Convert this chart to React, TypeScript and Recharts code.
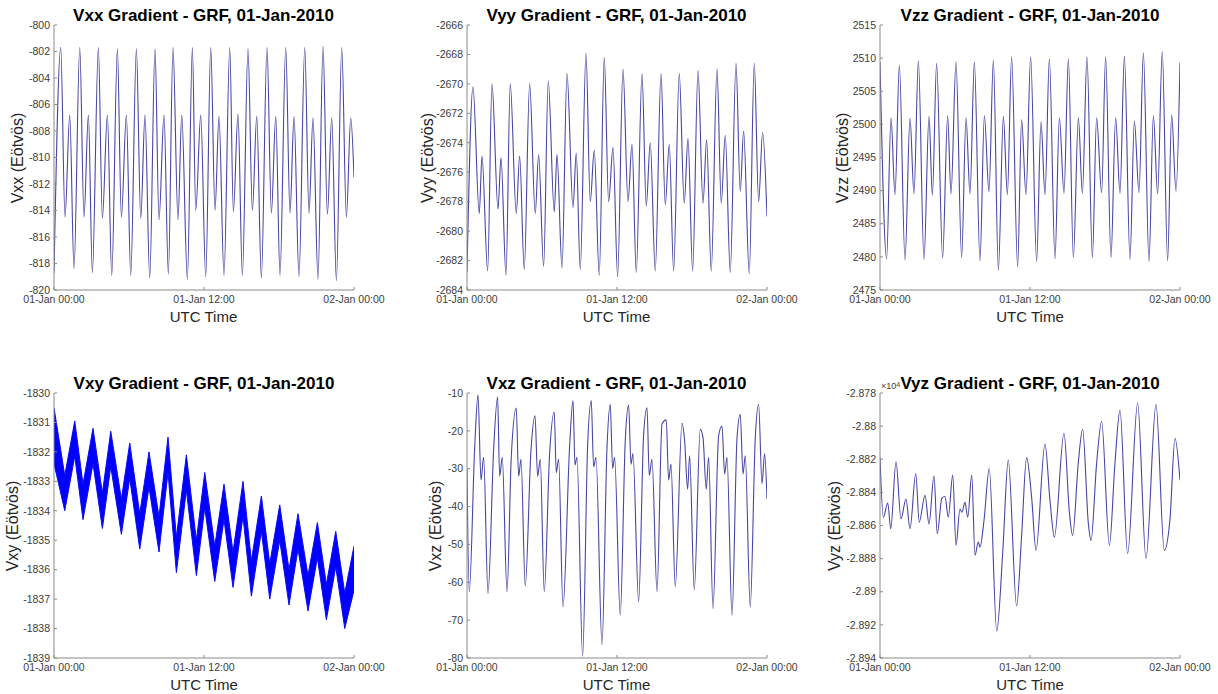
import React from 'react';
import { LineChart, Line, AreaChart, Area, XAxis, YAxis } from 'recharts';

// ---------- shared axis data ----------
const timeTicks = [0, 12, 24];
const timeTickLabels = ['01-Jan 00:00', '01-Jan 12:00', '02-Jan 00:00'];

// ---------- Vxx ----------
const vxxHours = [0, 0.54, 0.88, 1.26, 1.6, 2.06, 2.4, 2.75, 3.07, 3.55, 3.87, 4.27, 4.62, 5.07, 5.39, 5.79, 6.14, 6.59, 6.94, 7.28, 7.66, 8.08, 8.4, 8.8, 9.15, 9.52, 9.92, 10.22, 10.67, 11.07, 11.34, 11.74, 12.14, 12.54, 12.88, 13.2, 13.6, 14.06, 14.35, 14.72, 15.07, 15.52, 15.87, 16.22, 16.59, 17.04, 17.39, 17.74, 18.08, 18.54, 18.88, 19.2, 19.6, 20.06, 20.4, 20.72, 21.12, 21.52, 21.87, 22.22, 22.59, 23.02, 23.39, 23.74, 24];
const vxxValues = [-818.7,
  -801.7, -814.5, -806.8, -818.4,
  -801.7, -814.5, -806.8, -818.7,
  -801.7, -814.6, -806.8, -818.9,
  -801.8, -814.5, -806.8, -818.9,
  -801.8, -814.6, -806.8, -819.1,
  -801.8, -814.7, -806.8, -818.8,
  -801.7, -814.7, -806.8, -819.2,
  -801.7, -814.0, -806.8, -819.0,
  -801.7, -814.0, -806.9, -818.9,
  -801.7, -814.1, -806.7, -818.9,
  -801.8, -814.0, -806.9, -819.1,
  -801.7, -814.2, -806.9, -818.9,
  -801.7, -814.2, -806.9, -819.0,
  -801.7, -814.2, -807.0, -819.2,
  -801.6, -814.3, -807.0, -819.3,
  -801.7, -814.5, -807.0, -811.5];
const vxxTicks = [-820, -818, -816, -814, -812, -810, -808, -806, -804, -802, -800];

// ---------- Vyy ----------
const vyyHours = [0, 0.48, 0.98, 1.2, 1.65, 2.0, 2.48, 2.72, 3.12, 3.46, 3.94, 4.21, 4.58, 5.01, 5.46, 5.73, 6.13, 6.5, 6.98, 7.2, 7.6, 8.0, 8.48, 8.74, 9.06, 9.52, 9.86, 10.18, 10.58, 10.98, 11.33, 11.68, 12.05, 12.48, 12.88, 13.2, 13.54, 14.0, 14.34, 14.66, 15.06, 15.52, 15.86, 16.18, 16.53, 16.98, 17.38, 17.68, 18.05, 18.48, 18.88, 19.17, 19.54, 20.0, 20.34, 20.66, 21.06, 21.52, 21.86, 22.13, 22.58, 22.98, 23.33, 23.65, 24];
const vyyValues = [-2682.8,
  -2670.2, -2678.8, -2674.9, -2682.7,
  -2670.0, -2678.5, -2675.0, -2683.0,
  -2670.0, -2678.8, -2674.9, -2682.6,
  -2670.0, -2678.8, -2674.8, -2682.4,
  -2669.8, -2678.7, -2674.8, -2682.5,
  -2669.3, -2678.4, -2674.7, -2682.6,
  -2667.9, -2678.0, -2674.5, -2683.0,
  -2668.2, -2678.0, -2674.3, -2683.1,
  -2669.0, -2678.0, -2674.1, -2682.8,
  -2669.3, -2678.3, -2674.0, -2682.7,
  -2669.3, -2678.2, -2674.1, -2682.7,
  -2669.3, -2678.1, -2673.7, -2682.7,
  -2669.1, -2678.1, -2673.8, -2682.7,
  -2669.0, -2678.1, -2673.5, -2682.8,
  -2668.6, -2677.3, -2673.2, -2682.9,
  -2668.6, -2678.0, -2673.3, -2679.0];
const vyyTicks = [-2684, -2682, -2680, -2678, -2676, -2674, -2672, -2670, -2668, -2666];

// ---------- Vzz ----------
const vzzHours = [0, 0.53, 0.88, 1.2, 1.55, 2.0, 2.4, 2.72, 3.07, 3.52, 3.92, 4.19, 4.53, 5.01, 5.41, 5.68, 6.08, 6.53, 6.88, 7.2, 7.55, 8.0, 8.35, 8.72, 9.07, 9.47, 9.87, 10.19, 10.53, 11.01, 11.33, 11.68, 12.05, 12.53, 12.88, 13.2, 13.55, 14.0, 14.35, 14.72, 15.07, 15.47, 15.87, 16.19, 16.56, 16.99, 17.33, 17.73, 18.05, 18.48, 18.85, 19.2, 19.55, 20.0, 20.35, 20.72, 21.07, 21.52, 21.87, 22.21, 22.58, 23.01, 23.33, 23.68, 24];
const vzzValues = [2509.4,
  2479.7, 2501.0, 2489.4, 2508.9,
  2479.5, 2500.9, 2489.5, 2509.6,
  2479.6, 2501.2, 2489.3, 2509.2,
  2479.8, 2501.3, 2489.5, 2509.4,
  2479.9, 2501.0, 2489.5, 2509.4,
  2479.4, 2501.3, 2489.8, 2509.7,
  2478.0, 2501.2, 2489.4, 2510.2,
  2478.5, 2500.7, 2489.4, 2510.2,
  2479.3, 2500.4, 2489.4, 2509.9,
  2479.7, 2501.0, 2489.6, 2509.9,
  2479.9, 2501.0, 2489.6, 2510.2,
  2479.9, 2501.0, 2489.7, 2510.2,
  2479.9, 2501.0, 2489.6, 2510.3,
  2479.6, 2500.5, 2489.7, 2510.8,
  2479.3, 2501.3, 2489.5, 2511.0,
  2479.4, 2501.4, 2489.9, 2509.3];
const vzzTicks = [2475, 2480, 2485, 2490, 2495, 2500, 2505, 2510, 2515];

// ---------- Vxy (noisy band: lower / upper envelope) ----------
const vxyHours = [0, 0.86, 1.66, 2.32, 3.12, 3.87, 4.54, 5.39, 6.06, 6.86, 7.6, 8.4, 9.12, 9.79, 10.59, 11.39, 12.06, 12.86, 13.6, 14.32, 15.12, 15.79, 16.59, 17.26, 18.06, 18.8, 19.52, 20.32, 21.07, 21.79, 22.54, 23.26, 24];
const vxyUpper = [-1830.5, -1832.8, -1830.95, -1833.1, -1831.2, -1833.4, -1831.3, -1833.6, -1831.7, -1834.1, -1832.0, -1834.2, -1831.5, -1834.9, -1832.1, -1835.0, -1832.7, -1835.2, -1833.1, -1835.4, -1833.0, -1835.7, -1833.5, -1835.8, -1833.8, -1836.0, -1834.1, -1836.2, -1834.4, -1836.5, -1834.7, -1836.8, -1835.2];
const vxyLower = [-1832.4, -1834.0, -1832.15, -1834.3, -1832.4, -1834.6, -1832.5, -1834.8, -1832.9, -1835.3, -1833.2, -1835.4, -1832.7, -1836.1, -1833.3, -1836.2, -1833.9, -1836.4, -1834.3, -1836.6, -1834.2, -1836.9, -1834.7, -1837.0, -1835.0, -1837.2, -1835.3, -1837.4, -1835.6, -1837.7, -1835.9, -1838.0, -1836.7];
const vxyTicks = [-1839, -1838, -1837, -1836, -1835, -1834, -1833, -1832, -1831, -1830];

// ---------- Vxz ----------
const vxzHours = [0, 0.18, 0.62, 0.88, 1.12, 1.33, 1.68, 2.13, 2.45, 2.61, 2.82, 3.2, 3.54, 3.94, 4.13, 4.32, 4.66, 5.12, 5.44, 5.65, 5.86, 6.18, 6.61, 6.98, 7.14, 7.33, 7.68, 8.21, 8.48, 8.64, 8.8, 9.25, 9.65, 9.94, 10.13, 10.32, 10.8, 11.2, 11.46, 11.65, 11.81, 12.26, 12.66, 12.93, 13.12, 13.28, 13.73, 14.13, 14.4, 14.58, 14.8, 15.2, 15.6, 15.94, 16.13, 16.32, 16.66, 17.2, 17.41, 17.65, 17.81, 18.18, 18.66, 18.88, 19.14, 19.33, 19.68, 20.13, 20.4, 20.61, 20.8, 21.2, 21.6, 21.86, 22.08, 22.26, 22.66, 23.06, 23.33, 23.6, 23.81, 24];
const vxzValues = [-30,
  -62.5, -24, -10.5, -33, -27,
  -63, -25, -11, -32, -27,
  -62.5, -27, -14, -32, -27.5,
  -61, -25, -16, -32, -27.5,
  -62.5, -26, -15, -31, -27.5,
  -66.5, -24, -12, -29, -27,
  -79.5, -24, -12, -29.5, -27,
  -76.5, -24.4, -13, -30, -27,
  -68.7, -22.6, -13.2, -28.8, -26,
  -65.2, -21, -13.9, -31.8, -27.5,
  -62.5, -18.2, -17.1, -33, -28.8,
  -61.2, -18, -22.6, -35.4, -26.6,
  -62, -19.6, -21.8, -35.4, -27,
  -67, -21.3, -18.7, -31.4, -27,
  -68.7, -22, -15.6, -31.4, -26.6,
  -66.5, -22, -13, -34, -26,
  -38];
const vxzTicks = [-80, -70, -60, -50, -40, -30, -20, -10];

// ---------- Vyz ----------
const vyzHours = [0, 0.27, 0.62, 0.86, 1.28, 1.68, 2.08, 2.4, 2.86, 3.14, 3.6, 3.92, 4.32, 4.58, 4.95, 5.2, 5.46, 5.82, 6.08, 6.4, 6.55, 6.8, 7.02, 7.34, 7.6, 7.86, 8.0, 8.32, 8.74, 9.34, 9.82, 10.26, 10.93, 11.33, 11.73, 12.13, 12.48, 13.2, 13.6, 13.95, 14.72, 15.15, 15.41, 15.87, 16.21, 16.67, 16.88, 17.33, 17.73, 18.35, 18.8, 19.2, 19.81, 20.61, 21.28, 22.08, 22.74, 23.2, 23.6, 24];
const vyzValues = [-28819, -28855, -28846.4, -28862, -28821.5, -28856, -28844, -28862, -28828.6, -28858, -28841.8, -28859, -28830, -28865, -28843.5, -28842.5, -28855, -28829.6, -28872, -28850, -28852, -28846, -28855, -28829.6, -28878, -28870, -28873, -28857, -28825.6, -28923.8, -28876, -28820.5, -28908.6, -28866, -28819, -28843, -28875, -28810.8, -28845, -28867, -28804.3, -28852, -28866, -28821.5, -28801.9, -28859, -28869, -28822.5, -28797.2, -28872, -28822, -28790.5, -28877, -28786, -28880, -28787, -28875, -28856, -28807.3, -28832.7];
const vyzTicks = [-28940, -28920, -28900, -28880, -28860, -28840, -28820, -28800, -28780];

// ---------- styling ----------
const FONT = '"Liberation Sans", Arial, Helvetica, sans-serif';
const AXIS_COLOR = '#8a8a8a';
const TICK_TEXT = '#3c3c3c';
const LINE_COLOR = '#4646a6';
const PLOT_W = 300;
const PLOT_H = 265;
const Y_AXIS_W = 70;
const M_TOP = 30;
const M_RIGHT = 45;
const X_AXIS_H = 45;

const fmtTime = (v: number) => {
  const i = timeTicks.indexOf(v);
  return i >= 0 ? timeTickLabels[i] : '';
};
const fmtPlain = (v: number) => String(v);
const fmtE4 = (v: number) => String(Number((v / 1e4).toFixed(3)));
const EmptyTick = () => <g />;

const zipLine = (hours: number[], values: number[]) => hours.map((t, i) => ({ t, v: values[i] }));
const zipBand = (hours: number[], lo: number[], hi: number[]) =>
  hours.map((t, i) => ({ t, range: [lo[i], hi[i]] }));

type PanelCfg = {
  key: string;
  plotLeft: number;
  plotTop: number;
  title: string;
  yLabel: string;
  yLabelOffset: number;
  yDomain: [number, number];
  yTicks: number[];
  yFormat: (v: number) => string;
  kind: 'line' | 'band';
  data: any[];
  exponent?: boolean;
};

const panels: PanelCfg[] = [
  { key: 'vxx', plotLeft: 53.5, plotTop: 25, title: 'Vxx Gradient - GRF, 01-Jan-2010', yLabel: 'Vxx (Eötvös)', yLabelOffset: 36, yDomain: [-820, -800], yTicks: vxxTicks, yFormat: fmtPlain, kind: 'line', data: zipLine(vxxHours, vxxValues) },
  { key: 'vyy', plotLeft: 466.5, plotTop: 25, title: 'Vyy Gradient - GRF, 01-Jan-2010', yLabel: 'Vyy (Eötvös)', yLabelOffset: 39, yDomain: [-2684, -2666], yTicks: vyyTicks, yFormat: fmtPlain, kind: 'line', data: zipLine(vyyHours, vyyValues) },
  { key: 'vzz', plotLeft: 880, plotTop: 25, title: 'Vzz Gradient - GRF, 01-Jan-2010', yLabel: 'Vzz (Eötvös)', yLabelOffset: 37, yDomain: [2475, 2515], yTicks: vzzTicks, yFormat: fmtPlain, kind: 'line', data: zipLine(vzzHours, vzzValues) },
  { key: 'vxy', plotLeft: 54, plotTop: 393, title: 'Vxy Gradient - GRF, 01-Jan-2010', yLabel: 'Vxy (Eötvös)', yLabelOffset: 41, yDomain: [-1839, -1830], yTicks: vxyTicks, yFormat: fmtPlain, kind: 'band', data: zipBand(vxyHours, vxyLower, vxyUpper) },
  { key: 'vxz', plotLeft: 466.5, plotTop: 393, title: 'Vxz Gradient - GRF, 01-Jan-2010', yLabel: 'Vxz (Eötvös)', yLabelOffset: 31, yDomain: [-80, -10], yTicks: vxzTicks, yFormat: fmtPlain, kind: 'line', data: zipLine(vxzHours, vxzValues) },
  { key: 'vyz', plotLeft: 880, plotTop: 393, title: 'Vyz Gradient - GRF, 01-Jan-2010', yLabel: 'Vyz (Eötvös)', yLabelOffset: 45, yDomain: [-28940, -28780], yTicks: vyzTicks, yFormat: fmtE4, kind: 'line', data: zipLine(vyzHours, vyzValues), exponent: true },
];

function Panel({ cfg }: { cfg: PanelCfg }) {
  const chartW = Y_AXIS_W + PLOT_W + M_RIGHT;
  const chartH = M_TOP + PLOT_H + X_AXIS_H;
  const margin = { top: M_TOP, right: M_RIGHT, bottom: 0, left: 0 };
  const tickStyle = { fill: TICK_TEXT, fontSize: 10.5, fontFamily: FONT };
  const axes = [
    <XAxis key="xb" xAxisId="b" dataKey="t" type="number" domain={[0, 24]} ticks={timeTicks} interval={0}
      tickFormatter={fmtTime} height={X_AXIS_H} tickSize={-3} tickMargin={9} stroke={AXIS_COLOR} tick={tickStyle} allowDataOverflow />,
    <XAxis key="xt" xAxisId="t" orientation="top" dataKey="t" type="number" domain={[0, 24]} ticks={timeTicks} interval={0}
      height={0} tickSize={-3} stroke={AXIS_COLOR} tick={EmptyTick} allowDataOverflow />,
    <YAxis key="yl" yAxisId="l" type="number" domain={cfg.yDomain} ticks={cfg.yTicks} interval={0}
      tickFormatter={cfg.yFormat} width={Y_AXIS_W} tickSize={-3} tickMargin={7} stroke={AXIS_COLOR} tick={tickStyle} allowDataOverflow />,
    <YAxis key="yr" yAxisId="r" orientation="right" type="number" domain={cfg.yDomain} ticks={cfg.yTicks} interval={0}
      width={0} tickSize={-3} stroke={AXIS_COLOR} tick={EmptyTick} allowDataOverflow />,
  ];
  const plotBottom = cfg.plotTop + PLOT_H;
  const cx = cfg.plotLeft + PLOT_W / 2;
  return (
    <>
      <div style={{ position: 'absolute', left: cfg.plotLeft - Y_AXIS_W, top: cfg.plotTop - M_TOP }}>
        {cfg.kind === 'line' ? (
          <LineChart width={chartW} height={chartH} data={cfg.data} margin={margin}>
            {axes}
            <Line xAxisId="b" yAxisId="l" type="monotone" dataKey="v" stroke={LINE_COLOR} strokeWidth={1.1}
              dot={false} activeDot={false} isAnimationActive={false} />
          </LineChart>
        ) : (
          <AreaChart width={chartW} height={chartH} data={cfg.data} margin={margin}>
            {axes}
            <Area xAxisId="b" yAxisId="l" type="linear" dataKey="range" stroke="#0a0af5" strokeWidth={1}
              fill="#0000ff" fillOpacity={1} dot={false} activeDot={false} isAnimationActive={false} />
          </AreaChart>
        )}
      </div>
      <div style={{ position: 'absolute', left: cx - 200, width: 400, top: cfg.plotTop - 18, textAlign: 'center',
        fontSize: 17, lineHeight: '17px', fontWeight: 'bold', color: '#000', whiteSpace: 'nowrap', fontFamily: FONT }}>
        {cfg.title}
      </div>
      <div style={{ position: 'absolute', left: cx - 100, width: 200, top: plotBottom + 19, textAlign: 'center',
        fontSize: 15, lineHeight: '15px', color: '#262626', whiteSpace: 'nowrap', fontFamily: FONT }}>
        UTC Time
      </div>
      <div style={{ position: 'absolute', left: cfg.plotLeft - cfg.yLabelOffset - 100, width: 200,
        top: cfg.plotTop + PLOT_H / 2 - 9, height: 18, lineHeight: '18px', textAlign: 'center', fontSize: 16,
        color: '#262626', whiteSpace: 'nowrap', transform: 'rotate(-90deg)', fontFamily: FONT }}>
        {cfg.yLabel}
      </div>
      {cfg.exponent ? (
        <div style={{ position: 'absolute', left: cfg.plotLeft + 1, top: cfg.plotTop - 11, fontSize: 9,
          lineHeight: '9px', color: '#3c3c3c', fontFamily: FONT, whiteSpace: 'nowrap' }}>
          ×10<sup style={{ fontSize: 7, verticalAlign: 'top', position: 'relative', top: -2 }}>4</sup>
        </div>
      ) : null}
    </>
  );
}

export default function App() {
  return (
    <div style={{ position: 'absolute', left: 0, top: 0, width: 1218, height: 694, background: '#ffffff',
      overflow: 'hidden', fontFamily: FONT }}>
      {panels.map((p) => (
        <Panel key={p.key} cfg={p} />
      ))}
    </div>
  );
}
